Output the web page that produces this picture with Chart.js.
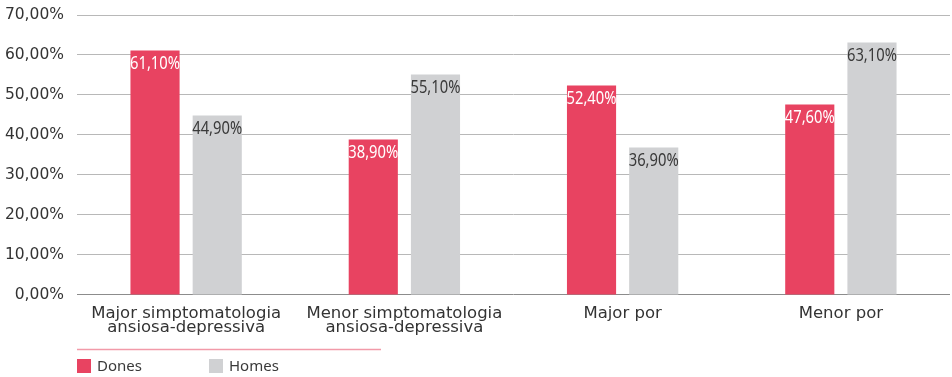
<!DOCTYPE html>
<html>
<head>
<meta charset="utf-8">
<script src="https://cdn.jsdelivr.net/npm/chart.js@4"></script>
<style>
  html, body { margin: 0; padding: 0; background: #fff; }
  #wrap { width: 952px; height: 377px; position: relative; }
</style>
</head>
<body>
<div id="wrap"><canvas id="c"></canvas></div>
<script>
// Categories (multi-line labels) and values per group, in percent
const categories = [
  ['Major simptomatologia', 'ansiosa-depressiva'],
  ['Menor simptomatologia', 'ansiosa-depressiva'],
  'Major por',
  'Menor por'
];
const dones = [61.1, 38.9, 52.4, 47.6];
const homes = [44.9, 55.1, 36.9, 63.1];
const seriesNames = ['Dones', 'Homes'];
const seriesColors = ['#E84361', '#D0D1D3'];
const labelColors = ['#FFFFFF', '#3A3A3A'];
const yTicks = [0, 10, 20, 30, 40, 50, 60, 70];

const FONT = '"Noto Sans", sans-serif';
const AXIS_FONT = '"DejaVu Sans", sans-serif';
const fmt = v => v.toFixed(2).replace('.', ',') + '%';

// Draws each bar's value inside the top of the bar, in a narrow (condensed) style
const valueLabels = {
  id: 'valueLabels',
  afterDatasetsDraw(chart) {
    const ctx = chart.ctx;
    const squeeze = 0.82;
    chart.data.datasets.forEach((ds, i) => {
      const meta = chart.getDatasetMeta(i);
      meta.data.forEach((bar, j) => {
        ctx.save();
        ctx.translate(bar.x, bar.y + 4);
        ctx.scale(squeeze, 1);
        ctx.font = '18px ' + FONT;
        ctx.textAlign = 'center';
        ctx.textBaseline = 'top';
        ctx.fillStyle = labelColors[i];
        ctx.fillText(fmt(ds.data[j]), 0, 0);
        ctx.restore();
      });
    });
  }
};

// Legend below the chart with a separator rule above it
const bottomLegend = {
  id: 'bottomLegend',
  afterDraw(chart) {
    const ctx = chart.ctx;
    const left = chart.chartArea.left;
    ctx.save();
    ctx.strokeStyle = '#F29AA9';
    ctx.lineWidth = 1.5;
    ctx.beginPath();
    ctx.moveTo(left, 349.5);
    ctx.lineTo(left + 304, 349.5);
    ctx.stroke();
    ctx.font = '15px ' + FONT;
    ctx.textBaseline = 'middle';
    ctx.textAlign = 'left';
    chart.data.datasets.forEach((ds, i) => {
      const x = left + i * 132;
      ctx.fillStyle = ds.backgroundColor;
      ctx.fillRect(x, 359, 14, 14);
      ctx.fillStyle = '#3A3A3A';
      ctx.fillText(ds.label, x + 20, 367);
    });
    ctx.restore();
  }
};

new Chart(document.getElementById('c'), {
  type: 'bar',
  data: {
    labels: categories,
    datasets: [
      { label: seriesNames[0], data: dones, backgroundColor: seriesColors[0] },
      { label: seriesNames[1], data: homes, backgroundColor: seriesColors[1] }
    ]
  },
  options: {
    responsive: true,
    maintainAspectRatio: false,
    animation: false,
    categoryPercentage: 0.57,
    barPercentage: 0.79,
    layout: { padding: { top: 15, right: 2, left: 0, bottom: 39 } },
    plugins: {
      legend: { display: false },
      tooltip: { enabled: false }
    },
    scales: {
      x: {
        grid: { display: false },
        border: { display: false },
        ticks: {
          color: '#333333',
          font: { family: AXIS_FONT, size: 16.5, lineHeight: 0.88 },
          padding: 3,
          maxRotation: 0,
          autoSkip: false
        }
      },
      y: {
        min: 0,
        max: 70,
        afterBuildTicks(axis) { axis.ticks = yTicks.map(v => ({ value: v })); },
        afterFit(axis) {
          axis.width = 77;
          axis.paddingTop = 0;
          axis.paddingBottom = 0;
        },
        grid: {
          drawTicks: false,
          color: ctx => ctx.tick && ctx.tick.value === 0 ? '#8C8C8C' : '#B8B8B8',
          lineWidth: 1
        },
        border: { display: false },
        ticks: {
          color: '#333333',
          font: { family: AXIS_FONT, size: 15.5 },
          padding: 13,
          callback: v => fmt(v)
        }
      }
    }
  },
  plugins: [valueLabels, bottomLegend]
});
</script>
</body>
</html>
